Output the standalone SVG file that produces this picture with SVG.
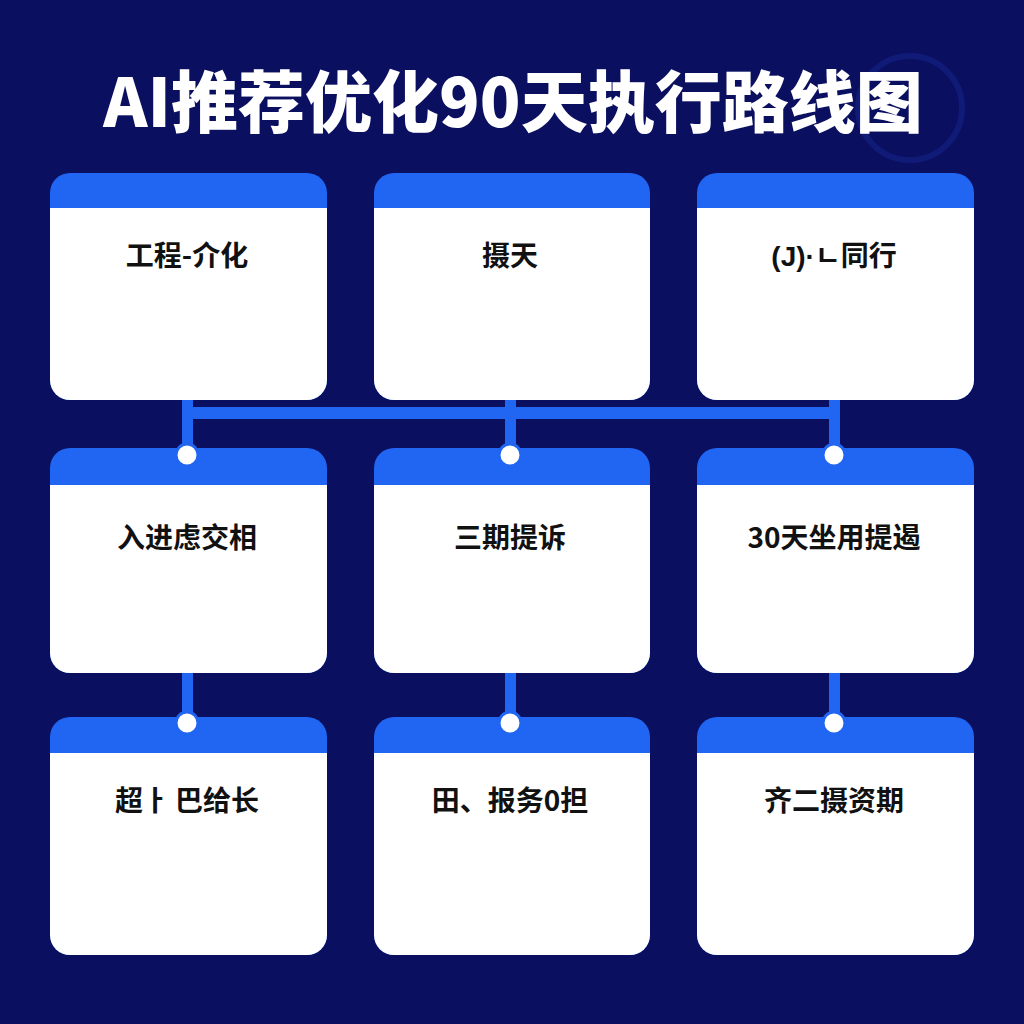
<svg xmlns="http://www.w3.org/2000/svg" width="1024" height="1024" viewBox="0 0 1024 1024">
  <style>
    .bg { fill: #0a0f60; }
    .hdr { fill: #2066f2; }
    .body { fill: #ffffff; }
    .lbl { font-family: "Noto Sans CJK SC", "Noto Sans CJK KR", "Liberation Sans", sans-serif; font-size: 28px; font-weight: 700; fill: #111111; text-anchor: middle; }
    .lat { font-family: "Liberation Sans", "Noto Sans CJK SC", sans-serif; }
    .title { font-family: "Noto Sans CJK SC", "Liberation Sans", sans-serif; font-size: 67px; font-weight: 900; fill: #ffffff; text-anchor: middle; }
    .wire { fill: #2066f2; }
    .dot { fill: #ffffff; stroke: #2066f2; stroke-width: 3; }
  </style>
  <rect class="bg" x="0" y="0" width="1024" height="1024"/>
  <circle cx="910" cy="108" r="52" fill="none" stroke="#1a2a9a" stroke-width="6" opacity="0.4"/>
  <text class="title" x="513" y="127">AI推荐优化90天执行路线图</text>

  <g id="connectors">
    <rect class="wire" x="182" y="407" width="657" height="12"/>
    <rect class="wire" x="182" y="400" width="11" height="55"/>
    <rect class="wire" x="505" y="400" width="11" height="55"/>
    <rect class="wire" x="829" y="400" width="11" height="55"/>
    <rect class="wire" x="182" y="673" width="11" height="50"/>
    <rect class="wire" x="505" y="673" width="11" height="50"/>
    <rect class="wire" x="829" y="673" width="11" height="50"/>
  </g>

  <g id="n1">
    <rect class="hdr" x="50" y="173" width="277" height="227" rx="20"/>
    <path class="body" d="M50,208 H327 V380 A20,20 0 0 1 307,400 H70 A20,20 0 0 1 50,380 Z"/>
    <text class="lbl" x="187" y="266">工程-介化</text>
  </g>
  <g id="n2">
    <rect class="hdr" x="374" y="173" width="276" height="227" rx="20"/>
    <path class="body" d="M374,208 H650 V380 A20,20 0 0 1 630,400 H394 A20,20 0 0 1 374,380 Z"/>
    <text class="lbl" x="510" y="266">摄天</text>
  </g>
  <g id="n3">
    <rect class="hdr" x="697" y="173" width="277" height="227" rx="20"/>
    <path class="body" d="M697,208 H974 V380 A20,20 0 0 1 954,400 H717 A20,20 0 0 1 697,380 Z"/>
    <text class="lbl" x="834" y="266"><tspan class="lat">(J)·</tspan>ㄴ同行</text>
  </g>

  <g id="n4">
    <rect class="hdr" x="50" y="448" width="277" height="225" rx="20"/>
    <path class="body" d="M50,485 H327 V653 A20,20 0 0 1 307,673 H70 A20,20 0 0 1 50,653 Z"/>
    <text class="lbl" x="187" y="548">入进虑交相</text>
  </g>
  <g id="n5">
    <rect class="hdr" x="374" y="448" width="276" height="225" rx="20"/>
    <path class="body" d="M374,485 H650 V653 A20,20 0 0 1 630,673 H394 A20,20 0 0 1 374,653 Z"/>
    <text class="lbl" x="510" y="548">三期提诉</text>
  </g>
  <g id="n6">
    <rect class="hdr" x="697" y="448" width="277" height="225" rx="20"/>
    <path class="body" d="M697,485 H974 V653 A20,20 0 0 1 954,673 H717 A20,20 0 0 1 697,653 Z"/>
    <text class="lbl" x="834" y="548">30天坐用提遏</text>
  </g>

  <g id="n7">
    <rect class="hdr" x="50" y="717" width="277" height="238" rx="20"/>
    <path class="body" d="M50,753 H327 V935 A20,20 0 0 1 307,955 H70 A20,20 0 0 1 50,935 Z"/>
    <text class="lbl" x="187" y="811">超ㅏ 巴给长</text>
  </g>
  <g id="n8">
    <rect class="hdr" x="374" y="717" width="276" height="238" rx="20"/>
    <path class="body" d="M374,753 H650 V935 A20,20 0 0 1 630,955 H394 A20,20 0 0 1 374,935 Z"/>
    <text class="lbl" x="510" y="811">田、报务0担</text>
  </g>
  <g id="n9">
    <rect class="hdr" x="697" y="717" width="277" height="238" rx="20"/>
    <path class="body" d="M697,753 H974 V935 A20,20 0 0 1 954,955 H717 A20,20 0 0 1 697,935 Z"/>
    <text class="lbl" x="834" y="811">齐二摄资期</text>
  </g>

  <g id="dots">
    <circle class="dot" cx="187" cy="455" r="11"/>
    <circle class="dot" cx="510" cy="455" r="11"/>
    <circle class="dot" cx="834" cy="455" r="11"/>
    <circle class="dot" cx="187" cy="723" r="11"/>
    <circle class="dot" cx="510" cy="723" r="11"/>
    <circle class="dot" cx="834" cy="723" r="11"/>
  </g>
</svg>
